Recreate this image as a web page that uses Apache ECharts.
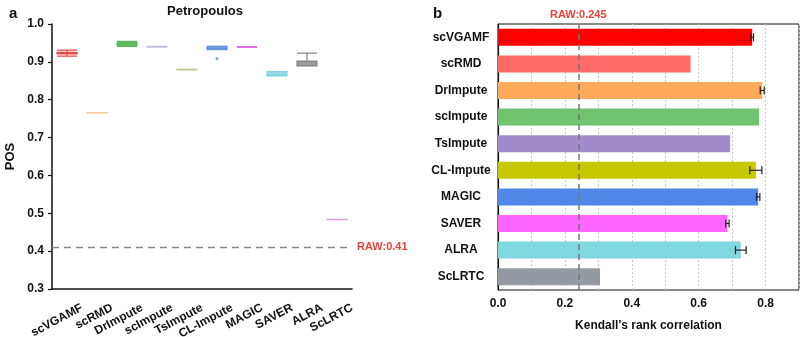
<!DOCTYPE html>
<html>
<head>
<meta charset="utf-8">
<script src="https://cdn.jsdelivr.net/npm/echarts@6/dist/echarts.min.js"></script>
<style>
  html, body { margin: 0; padding: 0; background: #fff; }
  #main { width: 800px; height: 337px; }
</style>
</head>
<body>
<div id="main"></div>
<script>
// methods, same order in both panels
const methods = ['scVGAMF', 'scRMD', 'DrImpute', 'scImpute', 'TsImpute', 'CL-Impute', 'MAGIC', 'SAVER', 'ALRA', 'ScLRTC'];

// panel a: POS boxplots [min, q1, median, q3, max]
const posBox = [
  [0.915, 0.921, 0.923, 0.925, 0.931],
  [0.765, 0.765, 0.765, 0.766, 0.766],
  [0.941, 0.944, 0.948, 0.951, 0.954],
  [0.939, 0.940, 0.940, 0.941, 0.941],
  [0.879, 0.879, 0.880, 0.880, 0.880],
  [0.932, 0.932, 0.936, 0.941, 0.941],
  [0.938, 0.939, 0.939, 0.939, 0.940],
  [0.863, 0.863, 0.866, 0.874, 0.874],
  [0.889, 0.889, 0.890, 0.902, 0.923],
  [0.483, 0.483, 0.483, 0.484, 0.484]
];
const posOutliers = [['CL-Impute', 0.909]];
const posColors = ['#e84a4a', '#f5c896', '#5cb85c', '#c4bcd8', '#c4c48c', '#5a8fe0', '#e070e0', '#7fd3df', '#858585', '#e0a0e0'];
const posRaw = 0.41;

// panel b: Kendall's rank correlation, mean and error
const kendall = [0.760, 0.576, 0.790, 0.781, 0.694, 0.771, 0.778, 0.686, 0.726, 0.305];
const kendallErr = [0.004, 0, 0.006, 0, 0, 0.018, 0.005, 0.005, 0.016, 0];
const barColors = ['#ff0000', '#ff6b6b', '#ffaa5a', '#70c470', '#a08cc8', '#c8c800', '#5088e8', '#ff66ff', '#80d8e0', '#9499a2'];
const kendallRaw = 0.245;
const kendallTicks = [0.0, 0.2, 0.4, 0.6, 0.8];

const font = 'Liberation Sans, Arial, sans-serif';

const chart = echarts.init(document.getElementById('main'));

const option = {
  animation: false,
  textStyle: { fontFamily: font },
  title: [
    { text: 'Petropoulos', left: 200, textAlign: 'center', top: 0,
      textStyle: { fontSize: 13, fontWeight: 'bold', color: '#111', fontFamily: font } },
    { text: 'a', left: 4, top: 1, textStyle: { fontSize: 15, fontWeight: 'bold', color: '#111', fontFamily: font } },
    { text: 'b', left: 428, top: 1, textStyle: { fontSize: 15, fontWeight: 'bold', color: '#111', fontFamily: font } }
  ],
  grid: [
    { left: 52, top: 24, width: 300, height: 265, outerBoundsMode: 'none', containLabel: false },
    { left: 498, top: 24, width: 301, height: 266, outerBoundsMode: 'none', containLabel: false,
      show: true, borderColor: '#111', borderWidth: 1, backgroundColor: 'transparent' }
  ],
  xAxis: [
    {
      gridIndex: 0, type: 'category', data: methods,
      axisLine: { lineStyle: { color: '#111', width: 1.5 } },
      axisTick: { show: false },
      axisLabel: { rotate: 28, interval: 0, color: '#111', fontWeight: 'bold', fontSize: 12, margin: 26,
        padding: [0, -17, 0, 0], fontFamily: font }
    },
    {
      gridIndex: 1, type: 'value', min: 0, max: 0.9, interval: 0.1,
      name: "Kendall's rank correlation", nameLocation: 'middle', nameGap: 30,
      nameTextStyle: { color: '#111', fontWeight: 'bold', fontSize: 12, fontFamily: font },
      axisLine: { lineStyle: { color: '#111', width: 1.2 } },
      axisTick: { inside: true, length: 3, lineStyle: { color: '#111' } },
      axisLabel: {
        color: '#111', fontWeight: 'bold', fontSize: 12, fontFamily: font,
        formatter: v => {
          const hit = kendallTicks.find(t => Math.abs(t - v) < 1e-6);
          return hit === undefined ? '' : hit.toFixed(1);
        }
      },
      splitLine: { show: true, lineStyle: { color: '#c8c8c8', type: [2, 2], width: 1 } }
    }
  ],
  yAxis: [
    {
      gridIndex: 0, type: 'value', min: 0.3, max: 1.0, interval: 0.1,
      name: 'POS', nameLocation: 'middle', nameGap: 35,
      nameTextStyle: { color: '#111', fontWeight: 'bold', fontSize: 13, fontFamily: font },
      axisLine: { show: true, lineStyle: { color: '#111', width: 1.5 } },
      axisTick: { show: true, length: 4, lineStyle: { color: '#111', width: 1.2 } },
      axisLabel: { color: '#111', fontWeight: 'bold', fontSize: 12, fontFamily: font,
        formatter: v => v.toFixed(1) },
      splitLine: { show: false }
    },
    {
      gridIndex: 1, type: 'category', data: methods, inverse: true,
      axisLine: { lineStyle: { color: '#111', width: 1.2 } },
      axisTick: { show: false },
      axisLabel: { color: '#111', fontWeight: 'bold', fontSize: 12, margin: 37, align: 'center', fontFamily: font }
    }
  ],
  series: [
    {
      type: 'boxplot', xAxisIndex: 0, yAxisIndex: 0,
      boxWidth: [20, 20],
      data: posBox.map((d, i) => ({
        value: d,
        itemStyle: { color: echarts.color.modifyAlpha(posColors[i], 0.8), borderColor: posColors[i], borderWidth: 1.2 }
      })),
      markLine: {
        silent: true, symbol: 'none',
        lineStyle: { color: '#888', type: [7, 5], width: 1.3 },
        label: { position: 'end', formatter: 'RAW:' + posRaw, color: '#e8413b', fontWeight: 'bold', fontSize: 11, fontFamily: font },
        data: [{ yAxis: posRaw }]
      }
    },
    {
      type: 'scatter', xAxisIndex: 0, yAxisIndex: 0,
      symbolSize: 3,
      itemStyle: { color: posColors[5] },
      data: posOutliers
    },
    {
      type: 'bar', xAxisIndex: 1, yAxisIndex: 1,
      barWidth: 17,
      data: kendall.map((v, i) => ({ value: v, itemStyle: { color: barColors[i] } })),
      markLine: {
        silent: true, symbol: 'none',
        lineStyle: { color: '#777', type: [6, 4], width: 1.5 },
        label: { position: 'start', formatter: 'RAW:' + kendallRaw, color: '#e8413b', fontWeight: 'bold', fontSize: 11, distance: 4, fontFamily: font },
        data: [{ xAxis: kendallRaw }]
      }
    },
    {
      type: 'custom', xAxisIndex: 1, yAxisIndex: 1,
      data: kendall.map((v, i) => [v, i, kendallErr[i]]),
      renderItem: (params, api) => {
        const err = api.value(2);
        if (!err) return null;
        const v = api.value(0), c = api.value(1);
        const lo = api.coord([v - err, c]);
        const hi = api.coord([v + err, c]);
        const h = 4;
        const st = { stroke: '#222', lineWidth: 1.2 };
        return {
          type: 'group',
          children: [
            { type: 'line', shape: { x1: lo[0], y1: lo[1], x2: hi[0], y2: hi[1] }, style: st },
            { type: 'line', shape: { x1: lo[0], y1: lo[1] - h, x2: lo[0], y2: lo[1] + h }, style: st },
            { type: 'line', shape: { x1: hi[0], y1: hi[1] - h, x2: hi[0], y2: hi[1] + h }, style: st }
          ]
        };
      },
      z: 5
    }
  ]
};

chart.setOption(option);
</script>
</body>
</html>
